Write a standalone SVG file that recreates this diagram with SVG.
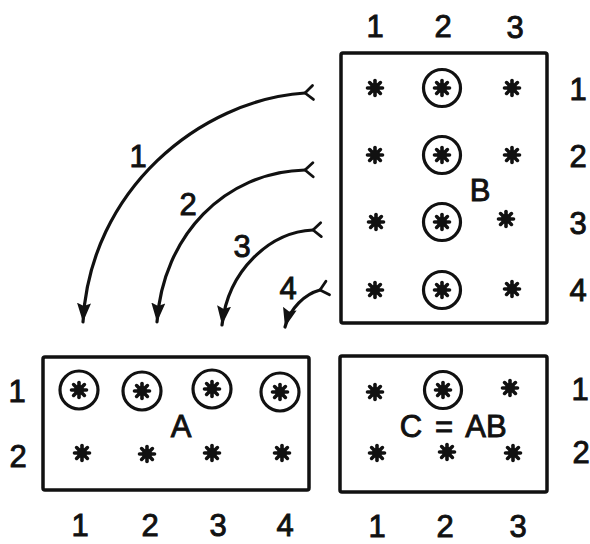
<svg xmlns="http://www.w3.org/2000/svg" xmlns:xlink="http://www.w3.org/1999/xlink" width="590" height="544" viewBox="0 0 590 544">
<style>
.box{fill:none;stroke:#111;stroke-width:3.5;stroke-linejoin:round}
.ring{fill:none;stroke:#111;stroke-width:3.2}
.lbl{font-family:"Liberation Sans",Arial,sans-serif;font-size:31px;fill:#111;stroke:#111;stroke-width:0.9;text-anchor:middle}
.arc{fill:none;stroke:#111;stroke-width:3.2;stroke-linecap:round}
</style>
<defs>
<g id="ast">
<g stroke="#111" stroke-width="3.6" stroke-linecap="round">
<line x1="-7.5" y1="0" x2="7.5" y2="0"/>
<line x1="0" y1="-7.5" x2="0" y2="7.5"/>
<line x1="-5.4" y1="-5.4" x2="5.4" y2="5.4"/>
<line x1="-5.4" y1="5.4" x2="5.4" y2="-5.4"/>
</g>
<circle r="5" fill="#111"/>
</g>
<marker id="head" markerUnits="userSpaceOnUse" markerWidth="22" markerHeight="16" refX="19" refY="8" orient="auto" viewBox="0 0 22 16">
<path d="M0,1 L19,8 L0,15 L3,8 Z" fill="#111"/>
</marker>
<marker id="tail" markerUnits="userSpaceOnUse" markerWidth="14" markerHeight="18" refX="11" refY="9" orient="auto" viewBox="0 0 14 18">
<path d="M3,2 L11,9 L3,16" fill="none" stroke="#111" stroke-width="2.8" stroke-linecap="round" stroke-linejoin="round"/>
</marker>
</defs>
<rect width="590" height="544" fill="#fff"/>

<g id="matrixB">
<rect class="box" x="341" y="53" width="206" height="270" rx="2"/>
<use xlink:href="#ast" x="375" y="88"/><circle class="ring" cx="442" cy="88" r="18.5"/><use xlink:href="#ast" x="442" y="88"/><use xlink:href="#ast" x="512" y="88"/>
<use xlink:href="#ast" x="375" y="155"/><circle class="ring" cx="442" cy="155" r="18.5"/><use xlink:href="#ast" x="442" y="155"/><use xlink:href="#ast" x="512" y="155"/>
<use xlink:href="#ast" x="376" y="222"/><circle class="ring" cx="442" cy="222" r="18.5"/><use xlink:href="#ast" x="442" y="222"/><use xlink:href="#ast" x="506" y="219"/>
<use xlink:href="#ast" x="375" y="290"/><circle class="ring" cx="442" cy="290" r="18.5"/><use xlink:href="#ast" x="442" y="290"/><use xlink:href="#ast" x="512" y="289"/>
<text class="lbl" x="480" y="201">B</text>
<text class="lbl" x="375" y="37">1</text><text class="lbl" x="443" y="37">2</text><text class="lbl" x="515" y="38">3</text>
<text class="lbl" x="578" y="100">1</text><text class="lbl" x="578" y="167">2</text><text class="lbl" x="578" y="234">3</text><text class="lbl" x="578" y="301">4</text>
</g>

<g id="matrixA">
<rect class="box" x="43" y="357" width="266" height="133" rx="2"/>
<circle class="ring" cx="79" cy="390" r="19"/><use xlink:href="#ast" x="79" y="390"/>
<circle class="ring" cx="142" cy="391" r="19"/><use xlink:href="#ast" x="142" y="391"/>
<circle class="ring" cx="212" cy="389" r="19"/><use xlink:href="#ast" x="212" y="389"/>
<circle class="ring" cx="280" cy="392" r="19"/><use xlink:href="#ast" x="280" y="392"/>
<use xlink:href="#ast" x="82" y="453"/><use xlink:href="#ast" x="147" y="454"/><use xlink:href="#ast" x="212" y="453"/><use xlink:href="#ast" x="282" y="453"/>
<text class="lbl" x="181" y="437">A</text>
<text class="lbl" x="17" y="402">1</text><text class="lbl" x="18" y="467">2</text>
<text class="lbl" x="80" y="536">1</text><text class="lbl" x="150" y="536">2</text><text class="lbl" x="218" y="536">3</text><text class="lbl" x="285" y="536">4</text>
</g>

<g id="matrixC">
<rect class="box" x="340" y="356" width="207" height="136" rx="2"/>
<use xlink:href="#ast" x="375" y="392"/>
<circle class="ring" cx="443" cy="390" r="18.5"/><use xlink:href="#ast" x="443" y="390"/>
<use xlink:href="#ast" x="510" y="388"/>
<use xlink:href="#ast" x="377" y="453"/><use xlink:href="#ast" x="447" y="452"/><use xlink:href="#ast" x="513" y="453"/>
<text class="lbl" x="411" y="437">C</text><text class="lbl" x="444" y="437">=</text><text class="lbl" x="486" y="437">AB</text>
<text class="lbl" x="377" y="537">1</text><text class="lbl" x="445" y="537">2</text><text class="lbl" x="518" y="537">3</text>
<text class="lbl" x="580" y="400">1</text><text class="lbl" x="581" y="463">2</text>
</g>

<g id="connectors">
<path class="arc" d="M305,93 C200,100 90,190 83,322" marker-start="url(#tail)" marker-end="url(#head)"/>
<path class="arc" d="M305,170 C225,172 163,235 157,322" marker-start="url(#tail)" marker-end="url(#head)"/>
<path class="arc" d="M313,230 C270,232 228,270 222,325" marker-start="url(#tail)" marker-end="url(#head)"/>
<path class="arc" d="M320,290 C305,294 290,308 285,327" marker-start="url(#tail)" marker-end="url(#head)"/>
<text class="lbl" x="138" y="167">1</text>
<text class="lbl" x="188" y="215">2</text>
<text class="lbl" x="242" y="257">3</text>
<text class="lbl" x="288" y="299">4</text>
</g>
</svg>
